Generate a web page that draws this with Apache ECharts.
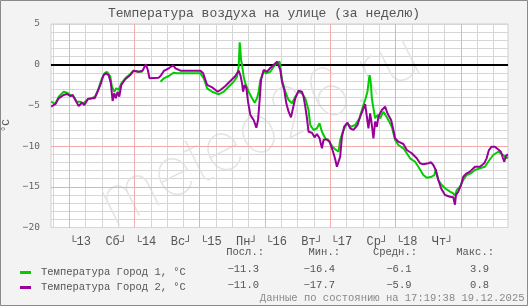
<!DOCTYPE html>
<html><head><meta charset="utf-8">
<script src="https://cdn.jsdelivr.net/npm/echarts@6/dist/echarts.min.js"></script>
<style>html,body{margin:0;padding:0;background:#f3f3f3}#c{width:528px;height:306px}</style>
</head><body><div id="c"></div>
<script>
// hours since 2025-12-13 00:00
const xMin = -6.68, xMax = 161.32;
const seriesNames = ['Температура Город 1, °C', 'Температура Город 2, °C'];
const seriesColors = ['#00cc00', '#990099'];
const hoursG = [-6.6,-5.06,-3.85,-2.02,-0.81,0.44,1.65,2.86,4.11,5.32,
6.90,8.37,9.61,10.83,12.04,13.03,13.87,14.50,15.12,15.71,
16.59,17.32,18.17,19.16,20.62,22.46,23.67,25.50,26.97,30.0,
33.58,34.79,36.62,38.46,39.71,43.38,48.26,49.47,50.72,52.55,
54.97,56.81,58.64,60.48,61.72,62.31,62.68,62.94,63.19,63.56,
64.15,64.77,65.98,67.23,68.18,69.06,69.65,70.28,71.49,72.48,
73.94,75.16,76.40,77.36,78.24,79.45,80.66,81.91,83.12,84.33,
85.58,86.79,88.00,88.62,89.83,91.08,92.04,92.92,94.13,95.34,
96.59,97.80,99.01,99.63,100.62,102.09,103.56,105.14,106.72,107.96,
108.81,109.65,110.17,110.46,110.75,111.01,111.27,111.85,112.48,113.32,
114.31,115.52,116.99,118.61,119.82,121.03,122.86,124.11,125.32,127.16,
128.37,130.20,131.45,133.28,134.24,134.75,135.23,135.71,136.95,138.17,
140.00,141.21,141.83,142.46,143.67,144.88,146.13,147.71,149.17,151.01,
152.84,154.06,155.89,157.72,159.56,160.81,161.28];
const tempG = [-4.55,-4.83,-3.93,-3.32,-3.44,-3.72,-3.93,-4.55,-4.55,-4.74,
-4.21,-4.13,-3.85,-2.90,-1.67,-1.06,-0.86,-0.65,-1.47,-2.70,
-3.32,-2.90,-3.11,-2.29,-1.67,-1.14,-0.74,-0.86,-0.86,null,
-2.09,-1.67,-1.39,-0.98,-1.06,-1.06,-1.06,-1.67,-2.90,-3.32,
-3.64,-3.32,-2.70,-2.09,-1.47,-0.25,2.75,1.81,0.58,-0.04,
-1.47,-2.29,-3.32,-4.13,-4.67,-4.13,-3.32,-1.88,-0.86,-1.06,
-0.86,-0.25,0.25,0.37,-1.88,-3.32,-4.34,-4.74,-3.93,-3.32,
-3.51,-4.13,-5.57,-7.41,-8.02,-7.81,-7.20,-8.23,-9.04,-9.25,
-9.99,-10.39,-10.69,-9.25,-8.23,-7.20,-7.62,-7.41,-6.58,-5.16,
-4.34,-3.32,-1.88,-1.27,-1.88,-2.86,-4.13,-5.36,-6.58,-6.18,
-6.58,-5.77,-6.58,-7.62,-9.25,-9.86,-10.27,-10.88,-11.50,-11.92,
-12.53,-13.55,-13.88,-13.76,-13.55,-12.85,-13.55,-14.17,-14.78,-15.18,
-15.60,-15.80,-16.1,-15.39,-14.99,-14.17,-13.55,-13.34,-12.94,-12.73,
-12.53,-11.92,-11.09,-10.69,-11.09,-11.50,-11.3];
const hoursP = [-6.6,-5.06,-3.85,-2.02,-0.81,0.44,1.28,2.28,3.49,4.70,
5.58,6.90,8.37,9.36,10.20,11.45,12.66,13.50,14.50,15.34,
15.96,16.59,17.17,17.80,18.42,19.16,20.62,22.46,23.67,25.50,
26.97,28.18,28.92,29.54,32.84,33.58,34.79,36.62,38.24,39.08,
40.92,43.38,45.80,48.26,49.25,50.72,52.55,54.61,55.60,57.43,
59.27,61.10,62.31,62.94,63.56,63.93,64.51,65.14,65.76,66.61,
67.82,68.81,69.43,70.02,70.53,71.49,72.73,73.94,75.16,76.40,
76.99,77.61,78.24,79.08,79.82,80.66,81.54,82.28,83.12,84.33,
85.58,86.17,86.79,87.41,88.00,89.25,90.20,91.08,92.04,92.92,
93.50,94.50,95.71,96.59,97.17,97.80,98.42,99.01,99.63,100.26,
101.10,102.31,103.30,104.51,105.98,106.97,107.96,108.81,109.43,110.02,
110.64,111.27,111.85,112.48,113.10,113.69,114.94,116.15,116.99,117.61,
118.35,119.19,119.82,121.03,122.86,124.11,125.94,127.78,128.99,130.20,
132.04,133.03,133.87,134.75,135.71,136.70,138.17,140.00,141.21,141.83,
142.20,143.05,144.04,144.88,146.13,147.34,149.17,151.01,152.59,153.47,
154.31,155.30,156.51,157.98,158.72,159.45,159.93,160.55,161.28];
const tempP = [-5.16,-4.83,-4.13,-3.72,-3.60,-3.85,-3.72,-4.34,-5.07,-4.67,
-4.95,-4.21,-4.13,-4.13,-3.51,-2.49,-1.27,-1.06,-1.27,-2.29,
-4.46,-3.51,-4.13,-3.32,-3.93,-2.49,-1.79,-1.27,-0.74,-0.86,
-0.74,0.05,-0.65,-1.67,-1.60,-1.39,-0.77,-0.44,-0.07,-0.44,
-0.74,-0.74,-0.74,-0.74,-1.06,-2.49,-2.78,-3.32,-3.11,-2.62,
-2.00,-1.39,-0.74,-1.27,-2.29,-3.32,-2.49,-2.90,-4.55,-6.18,
-6.79,-7.74,-6.79,-4.34,-1.88,-0.65,-0.86,-0.41,-0.04,0.37,
0.37,-0.65,-2.09,-3.11,-4.74,-5.77,-6.46,-5.36,-4.13,-3.19,
-3.32,-3.93,-5.16,-6.58,-8.23,-8.35,-8.92,-8.51,-9.04,-10.27,
-9.25,-9.16,-9.46,-10.27,-10.88,-11.62,-12.53,-12.73,-11.30,-8.85,
-7.62,-7.13,-7.81,-8.02,-7.41,-6.39,-5.57,-4.83,-6.39,-7.81,
-5.97,-7.41,-9.04,-7.00,-7.62,-6.39,-5.57,-5.16,-5.97,-6.18,
-6.79,-8.02,-9.04,-9.46,-9.74,-10.48,-10.88,-11.50,-12.11,-12.24,
-12.11,-11.99,-12.32,-12.94,-14.17,-15.18,-16.01,-16.22,-16.29,-17.2,
-16.01,-15.60,-14.78,-13.76,-13.34,-13.14,-12.53,-12.53,-12.11,-11.50,
-10.48,-10.07,-10.07,-10.48,-10.69,-11.46,-11.92,-11.22,-11.0];
const dayNoonHours = [12, 36, 60, 84, 108, 132];
const dayNumbers = ['13', '14', '15', '16', '17', '18'];
const dayNames = ['Сб', 'Вс', 'Пн', 'Вт', 'Ср', 'Чт'];
const yLabelValues = [-20, -15, -10, -5, 0, 5];
const majorY = [-15, -10, -5];
const statHeaders = ['Посл.:', 'Мин.:', 'Средн.:', 'Макс.:'];
const statsG = ['−11.3', '−16.4', '−6.1', '3.9'];
const statsP = ['−11.0', '−17.7', '−5.9', '0.8'];
const footerText = 'Данные по состоянию на 17:19:38 19.12.2025';
const titleText = 'Температура воздуха на улице (за неделю)';
const watermark = 'meteo26.ru';

const MONO = '"Liberation Mono", "DejaVu Sans Mono", monospace';
const PINK = '#f2aaaa', GREY = '#d6d6d6';
const gridLines = [];
for (let h = -6; h <= 156; h += 6) {
  const major = (h % 24 === 0);
  gridLines.push({xAxis: h, lineStyle: {color: major ? PINK : GREY, width: 1, type: 'solid'}});
}
majorY.forEach(v => gridLines.push({yAxis: v, lineStyle: {color: PINK, width: 1, type: 'solid'}}));
gridLines.push({yAxis: 0, lineStyle: {color: '#000', width: 2, type: 'solid'}});

const fmtNum = v => (v < 0 ? '−' + Math.abs(v) : String(v));
const chart = echarts.init(document.getElementById('c'), null, {renderer: 'canvas'});
const colRight = [264, 340, 417, 494];
const valRight = [259, 335, 411.5, 489];
const graphics = [
  {type: 'rect', shape: {x: 0.5, y: 0.5, width: 527, height: 305}, style: {fill: null, stroke: '#8a8a8a', lineWidth: 1}, silent: true, z: 100},
  {type: 'text', x: 260, y: 131, rotation: 27 * Math.PI / 180, z: 1, silent: true,
   style: {text: watermark, fontFamily: 'Inter, "DejaVu Sans", sans-serif', fontWeight: 100, fontSize: 68, fill: '#e4e4e4', align: 'center', verticalAlign: 'middle'}},
  {type: 'text', x: 524.5, y: 298.5, style: {text: footerText, fontFamily: MONO, fontSize: 10.5, fill: '#888', align: 'right', verticalAlign: 'middle'}}
];
statHeaders.forEach((t, i) => graphics.push({type: 'text', x: colRight[i], y: 252.5, style: {text: t, fontFamily: MONO, fontSize: 10.5, fill: '#555', align: 'right', verticalAlign: 'middle'}}));
statsG.forEach((t, i) => graphics.push({type: 'text', x: valRight[i], y: 269, style: {text: t, fontFamily: MONO, fontSize: 10.5, fill: '#555', align: 'right', verticalAlign: 'middle'}}));
statsP.forEach((t, i) => graphics.push({type: 'text', x: valRight[i], y: 285.5, style: {text: t, fontFamily: MONO, fontSize: 10.5, fill: '#555', align: 'right', verticalAlign: 'middle'}}));

chart.setOption({
  animation: false,
  backgroundColor: '#f3f3f3',
  title: {text: titleText, left: 'center', top: 2, textStyle: {fontFamily: MONO, fontSize: 13, fontWeight: 'normal', color: '#555'}},
  legend: {orient: 'vertical', left: 15, top: 262, itemWidth: 11, itemHeight: 3, itemGap: 4, icon: 'rect',
    data: seriesNames, selectedMode: false,
    textStyle: {fontFamily: MONO, fontSize: 10.5, color: '#555', padding: [0, 0, 0, 5]}},
  grid: {left: 51, right: 20, top: 24, bottom: 78.5, outerBoundsMode: 'none', containLabel: false,
    show: true, backgroundColor: '#fff', borderColor: '#cfcfcf', borderWidth: 1},
  xAxis: {type: 'value', min: xMin, max: xMax, splitLine: {show: false},
    axisLine: {show: true, lineStyle: {color: '#bbb'}}, axisTick: {show: false},
    axisLabel: {customValues: dayNoonHours, hideOverlap: false, showMinLabel: true, showMaxLabel: true,
      margin: 8, fontFamily: MONO, fontSize: 12, color: '#555',
      formatter: v => { const i = dayNoonHours.indexOf(v); return i < 0 ? '' : '└' + dayNumbers[i] + '  ' + dayNames[i] + '┘ '; }}},
  yAxis: [
    {type: 'value', min: -20, max: 5, interval: 1,
     name: '°C', nameLocation: 'middle', nameRotate: 90, nameGap: 37,
     nameTextStyle: {fontFamily: MONO, fontSize: 11, color: '#555'},
     splitLine: {show: false},
     axisLine: {show: true, lineStyle: {color: '#bbb'}}, axisTick: {show: false},
     axisLabel: {customValues: yLabelValues, margin: 11, fontFamily: '"DejaVu Sans Mono", monospace', fontSize: 9.5, color: '#666', formatter: fmtNum}},
    {type: 'value', min: -20, max: 5, interval: 1, position: 'right',
     splitLine: {show: true, lineStyle: {color: GREY, width: 1}},
     axisLine: {show: false}, axisTick: {show: false}, axisLabel: {show: false}}
  ],
  graphic: graphics,
  series: [
    {type: 'line', name: '_grid', data: [], z: 1, silent: true,
     markLine: {z: 1, silent: true, symbol: ['none', 'none'], label: {show: false}, emphasis: {disabled: true}, data: gridLines}},
    {type: 'line', name: seriesNames[0], data: hoursG.map((h, i) => [h, tempG[i]]), showSymbol: false, z: 3,
     connectNulls: false, lineStyle: {color: seriesColors[0], width: 2}, itemStyle: {color: seriesColors[0]}},
    {type: 'line', name: seriesNames[1], data: hoursP.map((h, i) => [h, tempP[i]]), showSymbol: false, z: 4,
     lineStyle: {color: seriesColors[1], width: 2}, itemStyle: {color: seriesColors[1]}}
  ]
});
</script></body></html>
